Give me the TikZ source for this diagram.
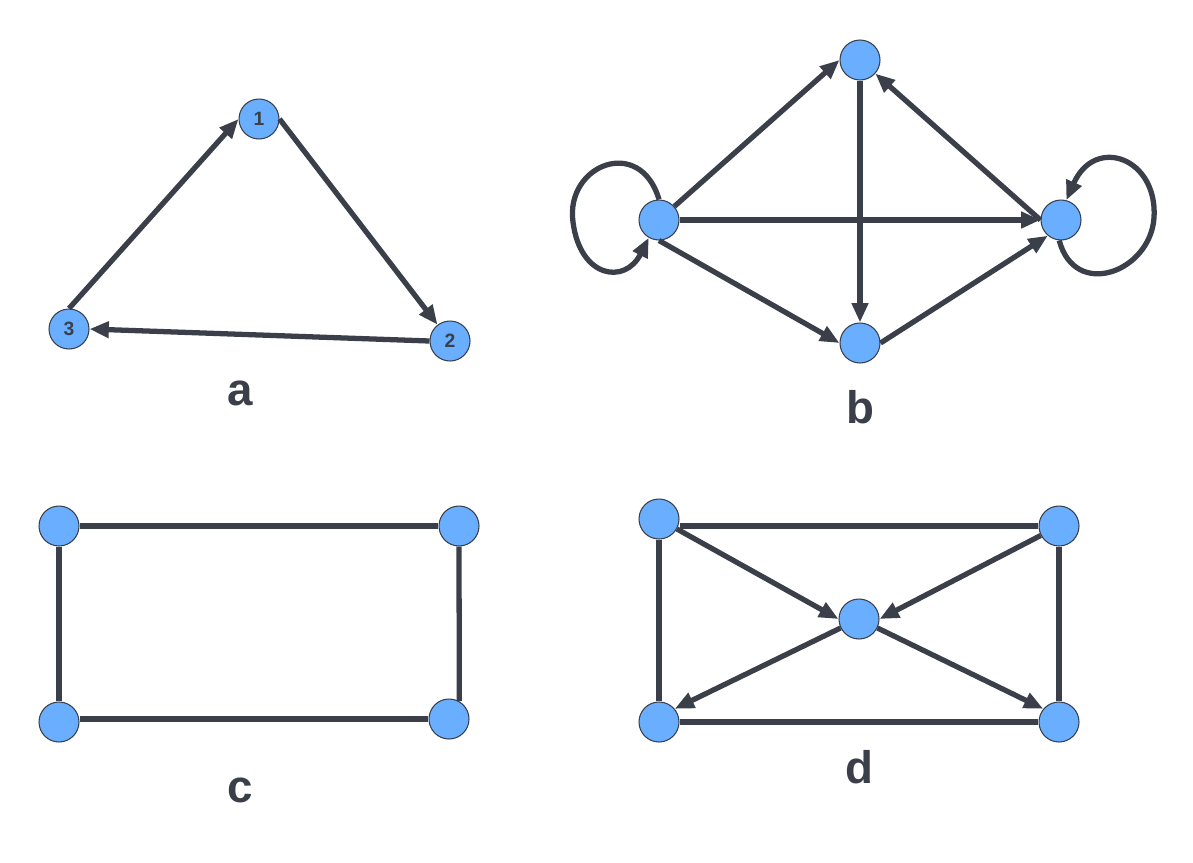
\documentclass[tikz,border=0pt]{standalone}
\usepackage{fontspec}
\setmainfont{Liberation Sans}
\usetikzlibrary{arrows.meta}
\definecolor{vfill}{HTML}{6AAFFF}
\definecolor{ink}{HTML}{3A3F4A}
\tikzset{
	vert/.style={circle, draw=ink, line width=0.6pt, fill=vfill, minimum size=0.8cm,
		inner sep=0pt, text=ink, font=\bfseries\fontsize{11}{13}\selectfont},
	link/.style={draw=ink, line width=3pt},
	arrowed/.style={link, -{Triangle[length=11pt,width=9pt]}},
	caption/.style={text=ink, font=\bfseries\fontsize{26}{30}\selectfont}
}
\begin{document}
\begin{tikzpicture}[x=0.02cm, y=-0.02cm]
	\useasboundingbox (0,0) rectangle (1193,862);
	% a
	\node[vert] (a1) at (259,119) {1};
	\node[vert] (a2) at (450,341) {2};
	\node[vert] (a3) at (69,329) {3};
	\draw[arrowed] (a3.north) -- (a1.west);
	\draw[arrowed] (a1.east) -- (a2);
	\draw[arrowed] (a2.west) -- (a3.east);
	\node[caption] (capa) at (240,393) {a};
	% b
	\node[vert] (bT) at (860,60) {};
	\node[vert] (bL) at (659,220) {};
	\node[vert] (bR) at (1061,220) {};
	\node[vert] (bB) at (860,343) {};
	\draw[arrowed] (bL) -- (bT.west);
	\draw[arrowed] (bT) -- (bB);
	\draw[arrowed] (bL) -- (bR);
	\draw[arrowed] (bR.west) -- (bT);
	\draw[arrowed] (bL.south) -- (bB.west);
	\draw[arrowed] (bB.east) -- (bR.-130);
	\draw[arrowed] (bL.90) .. controls (640,135) and (565,165) .. (573,222)
		.. controls (580,278) and (625,285) .. (bL.-120);
	\draw[arrowed] (bR.-95) .. controls (1075,300) and (1150,272) .. (1154,218)
		.. controls (1158,158) and (1095,135) .. (bR.75);
	\node[caption] (capb) at (860,407) {b};
	% c
	\node[vert] (cTL) at (59,526) {};
	\node[vert] (cTR) at (459,526) {};
	\node[vert] (cBL) at (59,722) {};
	\node[vert] (cBR) at (449,719) {};
	\draw[link] (cTL) -- (cTR);
	\draw[link] (cTL) -- (cBL);
	\draw[link] (cBR.west) -- (cBR.west -| cBL.east);
	\draw[link] (cTR) -- (cBR.60);
	\node[caption] (capc) at (240,790) {c};
	% d
	\node[vert] (dTL) at (659,519) {};
	\node[vert] (dTR) at (1059,526) {};
	\node[vert] (dC) at (859,619) {};
	\node[vert] (dBL) at (659,722) {};
	\node[vert] (dBR) at (1059,722) {};
	\draw[link] (dTR.west) -- (dTR.west -| dTL.east);
	\draw[link] (dTL) -- (dBL);
	\draw[link] (dTR) -- (dBR);
	\draw[link] (dBL) -- (dBR);
	\draw[arrowed] (dTL) -- (dC.west);
	\draw[arrowed] (dTR) -- (dC.east);
	\draw[arrowed] (dC) -- (dBL.40);
	\draw[arrowed] (dC) -- (dBR.140);
	\node[caption] (capd) at (859,767) {d};
\end{tikzpicture}
\end{document}
